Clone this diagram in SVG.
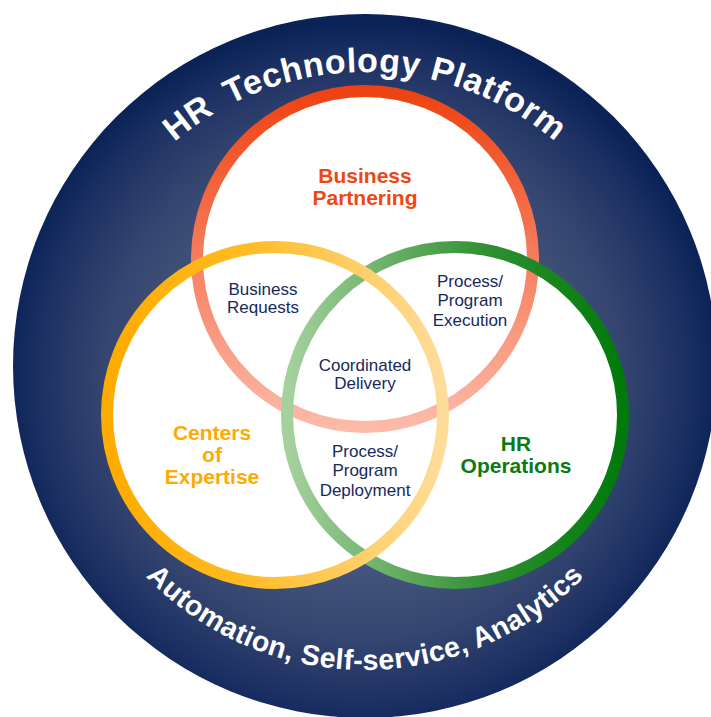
<svg xmlns="http://www.w3.org/2000/svg" width="711" height="717" viewBox="0 0 711 717">
  <defs>
    <radialGradient id="platformFill" gradientUnits="userSpaceOnUse" cx="362" cy="380" r="360">
      <stop offset="0" stop-color="#5e6c93"/>
      <stop offset="0.45" stop-color="#4a5a81"/>
      <stop offset="0.72" stop-color="#34456f"/>
      <stop offset="0.9" stop-color="#1c3063"/>
      <stop offset="1" stop-color="#0a2256"/>
    </radialGradient>
    <linearGradient id="ringRed" gradientUnits="userSpaceOnUse" x1="0" y1="91" x2="0" y2="427">
      <stop offset="0" stop-color="#ee4212"/>
      <stop offset="1" stop-color="#fdbaa9"/>
    </linearGradient>
    <linearGradient id="ringGreen" gradientUnits="userSpaceOnUse" x1="287" y1="0" x2="623" y2="0">
      <stop offset="0" stop-color="#a6d19e"/>
      <stop offset="0.6" stop-color="#2f8f32"/>
      <stop offset="1" stop-color="#007a0a"/>
    </linearGradient>
    <linearGradient id="ringOrange" gradientUnits="userSpaceOnUse" x1="107" y1="0" x2="443" y2="0">
      <stop offset="0" stop-color="#ffab00"/>
      <stop offset="0.4" stop-color="#ffbb22"/>
      <stop offset="1" stop-color="#fedc9a"/>
    </linearGradient>
    <path id="arcTop" d="M 71 366 A 294 294 0 0 1 659 366"/>
    <path id="arcBottom" d="M 61 366 A 304 304 0 0 0 669 366"/>
  </defs>
  <style>
    .ring { fill: none; stroke-width: 12; }
    .disc { fill: #ffffff; }
    .arcText { font-family: "Liberation Sans", Arial, sans-serif; font-weight: bold; fill: #ffffff; }
    .title { font-family: "Liberation Sans", Arial, sans-serif; font-weight: bold; font-size: 21px; text-anchor: middle; }
    .overlap { font-family: "Liberation Sans", Arial, sans-serif; font-size: 17px; fill: #17295b; text-anchor: middle; }
  </style>

  <!-- outer platform disc -->
  <g id="platform">
    <circle cx="365" cy="366" r="352" fill="url(#platformFill)"/>
    <text class="arcText" font-size="34" letter-spacing="0.6"><textPath href="#arcTop" startOffset="50%" text-anchor="middle">HR <tspan dx="7">Technology</tspan> Platform</textPath></text>
    <text class="arcText" font-size="28.5" letter-spacing="0.4"><textPath href="#arcBottom" startOffset="50%" text-anchor="middle">Automation, Self-service, Analytics</textPath></text>
  </g>

  <!-- white interiors of the three sets -->
  <g id="fills">
    <circle class="disc" cx="365" cy="259" r="168"/>
    <circle class="disc" cx="455" cy="415" r="168"/>
    <circle class="disc" cx="275" cy="415" r="168"/>
  </g>

  <!-- set outlines, stacked red, green, orange -->
  <g id="connectors">
    <circle id="business-partnering-ring" class="ring" cx="365" cy="259" r="168" stroke="url(#ringRed)"/>
    <circle id="hr-operations-ring" class="ring" cx="455" cy="415" r="168" stroke="url(#ringGreen)"/>
    <circle id="centers-of-expertise-ring" class="ring" cx="275" cy="415" r="168" stroke="url(#ringOrange)"/>
  </g>

  <g id="business-partnering">
    <text class="title" fill="#ec4814" x="365" y="183">Business</text>
    <text class="title" fill="#ec4814" x="365" y="205">Partnering</text>
  </g>

  <g id="centers-of-expertise">
    <text class="title" fill="#fdab00" x="212" y="440">Centers</text>
    <text class="title" fill="#fdab00" x="212" y="462">of</text>
    <text class="title" fill="#fdab00" x="212" y="484">Expertise</text>
  </g>

  <g id="hr-operations">
    <text class="title" fill="#0b7a13" x="516" y="451">HR</text>
    <text class="title" fill="#0b7a13" x="516" y="473">Operations</text>
  </g>

  <g id="business-requests">
    <text class="overlap" x="263" y="295">Business</text>
    <text class="overlap" x="263" y="313">Requests</text>
  </g>

  <g id="process-program-execution">
    <text class="overlap" x="470" y="287">Process/</text>
    <text class="overlap" x="470" y="306">Program</text>
    <text class="overlap" x="470" y="326">Execution</text>
  </g>

  <g id="coordinated-delivery">
    <text class="overlap" x="365" y="371">Coordinated</text>
    <text class="overlap" x="365" y="389">Delivery</text>
  </g>

  <g id="process-program-deployment">
    <text class="overlap" x="365" y="457">Process/</text>
    <text class="overlap" x="365" y="476">Program</text>
    <text class="overlap" x="365" y="496">Deployment</text>
  </g>
</svg>
